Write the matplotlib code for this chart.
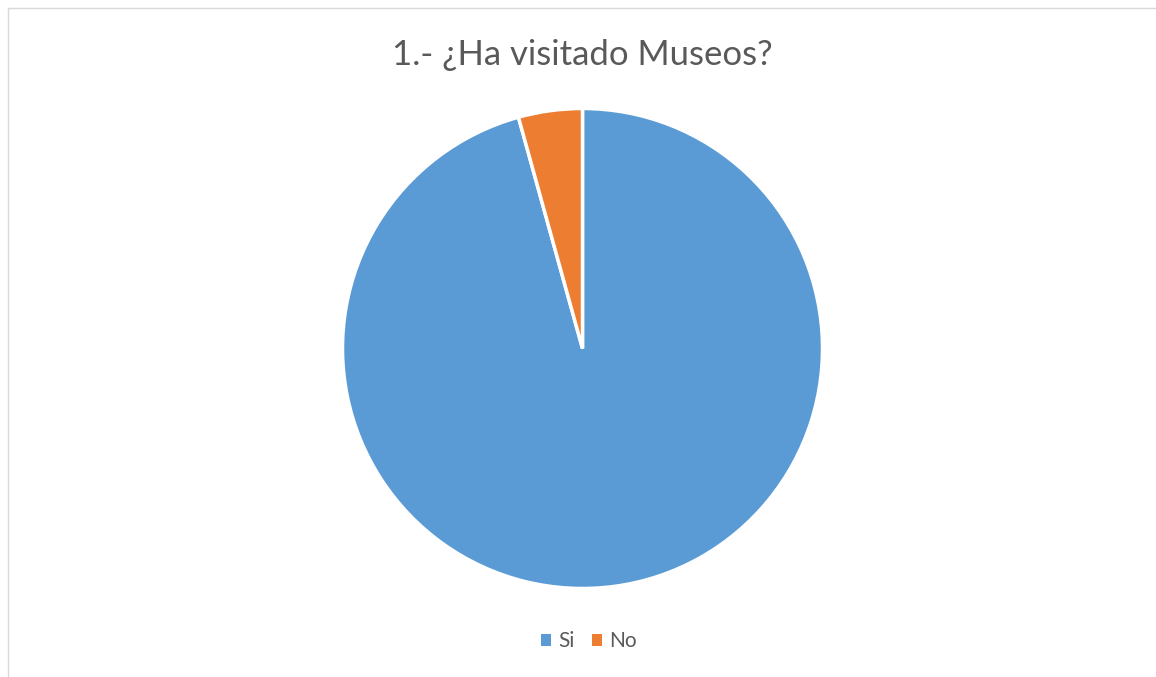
import matplotlib
matplotlib.use("Agg")
import matplotlib.pyplot as plt
from matplotlib.lines import Line2D
from matplotlib.patches import Patch

categories = ["Si", "No"]
values = [95.7, 4.3]
colors = ["#5B9BD5", "#ED7D31"]
title = "1.- ¿Ha visitado Museos?"

W, H = 1156, 677
fig = plt.figure(figsize=(W / 100, H / 100), dpi=100)
fig.patch.set_facecolor("white")

cx, cy, r = 582.5, 348.5, 240
ax = fig.add_axes([(cx - r) / W, (H - cy - r) / H, 2 * r / W, 2 * r / H])
ax.pie(values, colors=colors, startangle=90, counterclock=False, radius=1,
       wedgeprops=dict(edgecolor="white", linewidth=2.5))
ax.set_xlim(-1, 1)
ax.set_ylim(-1, 1)
ax.set_aspect("equal")
ax.axis("off")

fig.text(cx / W, 1 - 55 / H, title, ha="center", va="center",
         fontsize=25, color="#595959", family="Lato")

handles = [Patch(facecolor=c, edgecolor="none") for c in colors]
fig.legend(handles, categories, loc="center", bbox_to_anchor=(589 / W, 1 - 641 / H),
           ncol=2, frameon=False, labelcolor="#595959",
           handlelength=0.5, handleheight=0.5, handletextpad=0.35, columnspacing=0.8,
           prop={"family": "Lato", "size": 15})

fig.add_artist(Line2D([7.5 / W, 7.5 / W], [0, 1 - 8 / H], transform=fig.transFigure,
                      color="#D9D9D9", linewidth=1))
fig.add_artist(Line2D([7.5 / W, 1], [1 - 8 / H, 1 - 8 / H], transform=fig.transFigure,
                      color="#D9D9D9", linewidth=1))

fig.savefig("out.png", dpi=100)
